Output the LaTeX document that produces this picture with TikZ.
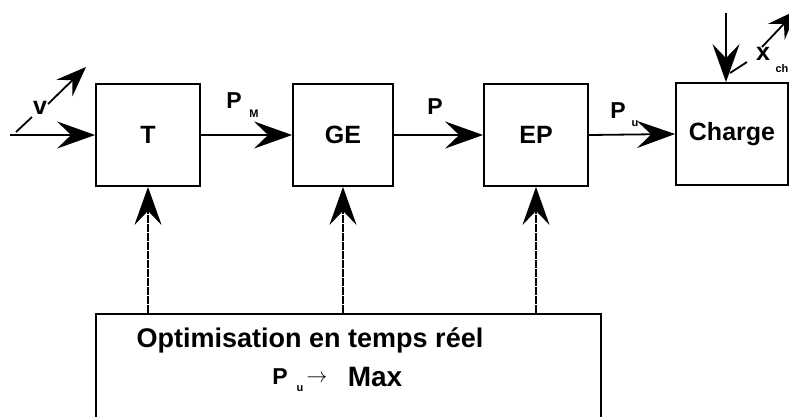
\documentclass[tikz,border=0pt]{standalone}
\usepackage{fontspec}
\setmainfont{Liberation Sans}
\usetikzlibrary{arrows.meta,calc}
\tikzset{fl/.style={line width=1.8pt, -{Stealth[length=38pt,width=27pt,inset=14pt]}},
  flsm/.style={line width=1.8pt, -{Stealth[length=30pt,width=23pt,inset=11pt]}},
  ctl/.style={fl, line width=2.4pt, dash pattern=on 8pt off 1pt},
  blk/.style={draw, line width=1.8pt, minimum width=104pt, minimum height=102pt, inner sep=1pt,
    font=\fontsize{25}{30}\selectfont\bfseries},
  lbl/.style={inner sep=0pt, font=\fontsize{23}{27}\selectfont\bfseries},
  sub/.style={inner sep=0pt, font=\fontsize{11}{13}\selectfont\bfseries}}

\begin{document}
\begin{tikzpicture}[x=1pt, y=-1pt]
  \useasboundingbox (0,0) rectangle (789,416);
  \clip (0,0) rectangle (789,416);
  % blocks
  \node[blk] (t) at (148,135) {T};
  \node[blk, minimum width=100pt] (ge) at (343,135) {GE};
  \node[blk] (ep) at (536,135) {EP};
  \node[blk, minimum width=112pt] (ch) at (732,134) {Charge};
  \node[draw, line width=1.8pt, minimum width=505pt, minimum height=126pt] (opt) at (348.5,377) {};
  % power chain
  \coordinate (vin) at (10,135);
  \draw[fl] (vin) -- (t.west);
  \draw[fl] (t.east) -- (ge.west);
  \draw[fl] (ge.east) -- (ep.west);
  \draw[fl] (ep.east) -- (ch.west);
  \node[lbl] (pm) at (234,101) {P};
  \node[sub] (pmsub) at (254,114) {M};
  \node[lbl] (p) at (435,107) {P};
  \node[lbl] (pu) at (618,111) {P};
  \node[sub] (pusub) at (635,124) {u};
  % parameter v
  \coordinate (va) at (16,132);
  \coordinate (vb) at (32,117);
  \draw[line width=1.8pt] (va) -- (vb);
  \node[inner sep=0pt, font=\fontsize{25}{30}\selectfont\bfseries] (v) at (40,108) {v};
  \coordinate (vc) at (48,104);
  \coordinate (vd) at (86,67);
  \draw[flsm] (vc) -- (vd);
  % load disturbance
  \coordinate (xin) at (726,13);
  \draw[fl] (xin) -- (xin |- ch.north);
  \coordinate (xa) at (730,73);
  \coordinate (xb) at (747,62);
  \draw[line width=1.8pt] (xa) -- (xb);
  \node[inner sep=0pt, font=\fontsize{25}{30}\selectfont\bfseries] (x) at (763,54) {x};
  \node[sub] (xsub) at (782,69) {ch};
  \coordinate (xc) at (762,47);
  \coordinate (xd) at (797,10);
  \draw[flsm] (xc) -- (xd);
  % optimisation loop
  \draw[ctl] (opt.north -| t.south) -- (t.south);
  \draw[ctl] (opt.north -| ge.south) -- (ge.south);
  \draw[ctl] (opt.north -| ep.south) -- (ep.south);
  \node[inner sep=0pt, font=\fontsize{27}{32}\selectfont\bfseries] (optxt) at (310,340) {Optimisation en temps réel};
  \node[lbl] (gp) at (280,377) {P};
  \node[sub] (gsub) at (300,389) {u};
  \node[inner sep=0pt, font=\fontsize{20}{24}\selectfont] (garr) at (317,379) {$\rightarrow$};
  \node[inner sep=0pt, font=\fontsize{28}{32}\selectfont\bfseries] (gmax) at (375,377) {Max};
\end{tikzpicture}
\end{document}
